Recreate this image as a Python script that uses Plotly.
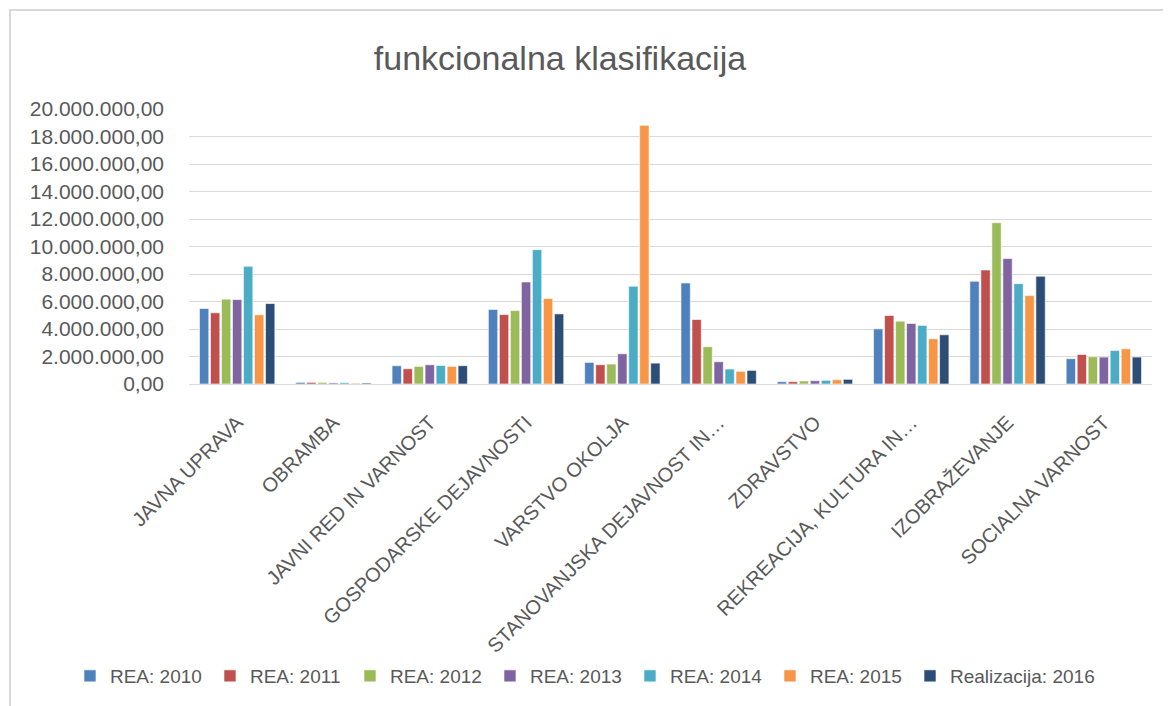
import plotly.graph_objects as go

categories = [
    "JAVNA UPRAVA",
    "OBRAMBA",
    "JAVNI RED IN VARNOST",
    "GOSPODARSKE DEJAVNOSTI",
    "VARSTVO OKOLJA",
    "STANOVANJSKA DEJAVNOST IN…",
    "ZDRAVSTVO",
    "REKREACIJA, KULTURA IN…",
    "IZOBRAŽEVANJE",
    "SOCIALNA VARNOST",
]

series_names = ["REA: 2010", "REA: 2011", "REA: 2012", "REA: 2013",
                "REA: 2014", "REA: 2015", "Realizacija: 2016"]

rea_2010 = [5490000, 120000, 1330000, 5420000, 1570000, 7350000, 170000, 4010000, 7470000, 1840000]
rea_2011 = [5180000, 120000, 1110000, 5050000, 1400000, 4690000, 170000, 4980000, 8290000, 2150000]
rea_2012 = [6170000, 120000, 1280000, 5340000, 1450000, 2710000, 220000, 4570000, 11730000, 1980000]
rea_2013 = [6140000, 80000, 1400000, 7420000, 2200000, 1620000, 240000, 4400000, 9120000, 1960000]
rea_2014 = [8560000, 100000, 1350000, 9770000, 7110000, 1090000, 270000, 4260000, 7300000, 2440000]
rea_2015 = [5030000, 60000, 1280000, 6220000, 18810000, 920000, 310000, 3290000, 6430000, 2560000]
real_2016 = [5850000, 70000, 1330000, 5100000, 1520000, 990000, 340000, 3580000, 7840000, 1960000]

all_series = [rea_2010, rea_2011, rea_2012, rea_2013, rea_2014, rea_2015, real_2016]
colors = ["#4F81BD", "#C0504D", "#9BBB59", "#8064A2", "#4BACC6", "#F79646", "#2C4D75"]

font = "Liberation Sans"
grey = "#595959"

fig = go.Figure()
for i, (name, vals, col) in enumerate(zip(series_names, all_series, colors)):
    fig.add_trace(go.Bar(
        name=name, x=categories, y=vals,
        # last entry gets its own legend so the fixed entry width doesn't clip it
        legend="legend2" if i == len(series_names) - 1 else "legend",
        marker={"color": col, "line": {"color": "rgba(255,255,255,0.6)", "width": 1}},
    ))

legend_style = {
    "orientation": "h", "xanchor": "left", "y": -1.0618, "yanchor": "middle",
    "font": {"size": 19, "color": grey}, "bgcolor": "rgba(0,0,0,0)",
    "itemwidth": 30,
}

# page body has an 8px margin, so the figure is 8px smaller than the window
fig.update_layout(
    width=1163, height=698,
    paper_bgcolor="white", plot_bgcolor="white",
    margin={"l": 181, "r": 19, "t": 101, "b": 322, "autoexpand": False},
    separators=",.",
    barmode="group", bargap=0.2, bargroupgap=0.15,
    title={
        "text": "funkcionalna klasifikacija",
        "x": 0.4746, "xanchor": "center", "xref": "container",
        "y": 0.928, "yanchor": "middle",
        "font": {"family": font, "size": 34, "color": grey},
    },
    font={"family": font, "color": grey},
    legend={**legend_style, "x": -0.1236, "entrywidth": 95, "entrywidthmode": "pixels"},
    legend2={**legend_style, "x": 0.7487},
    xaxis={
        "tickangle": -45, "tickfont": {"size": 20, "color": grey},
        "showgrid": False, "showline": True, "linecolor": "#D9D9D9", "linewidth": 1,
        "ticks": "", "ticklabelstandoff": 18, "automargin": False,
    },
    yaxis={
        "range": [0, 20000000], "dtick": 2000000, "tickformat": ",.2f",
        "tickfont": {"size": 21, "color": grey},
        "showgrid": True, "gridcolor": "#D9D9D9", "gridwidth": 1,
        "zeroline": False, "showline": False, "ticks": "", "ticklabelstandoff": 24,
        "automargin": False,
    },
    shapes=[{
        "type": "rect", "xref": "paper", "yref": "paper",
        "x0": -0.1859, "x1": 1.03, "y0": -1.4, "y1": 1.36,
        "line": {"color": "#D9D9D9", "width": 2}, "layer": "below",
    }],
)

fig.write_html("out.html")
